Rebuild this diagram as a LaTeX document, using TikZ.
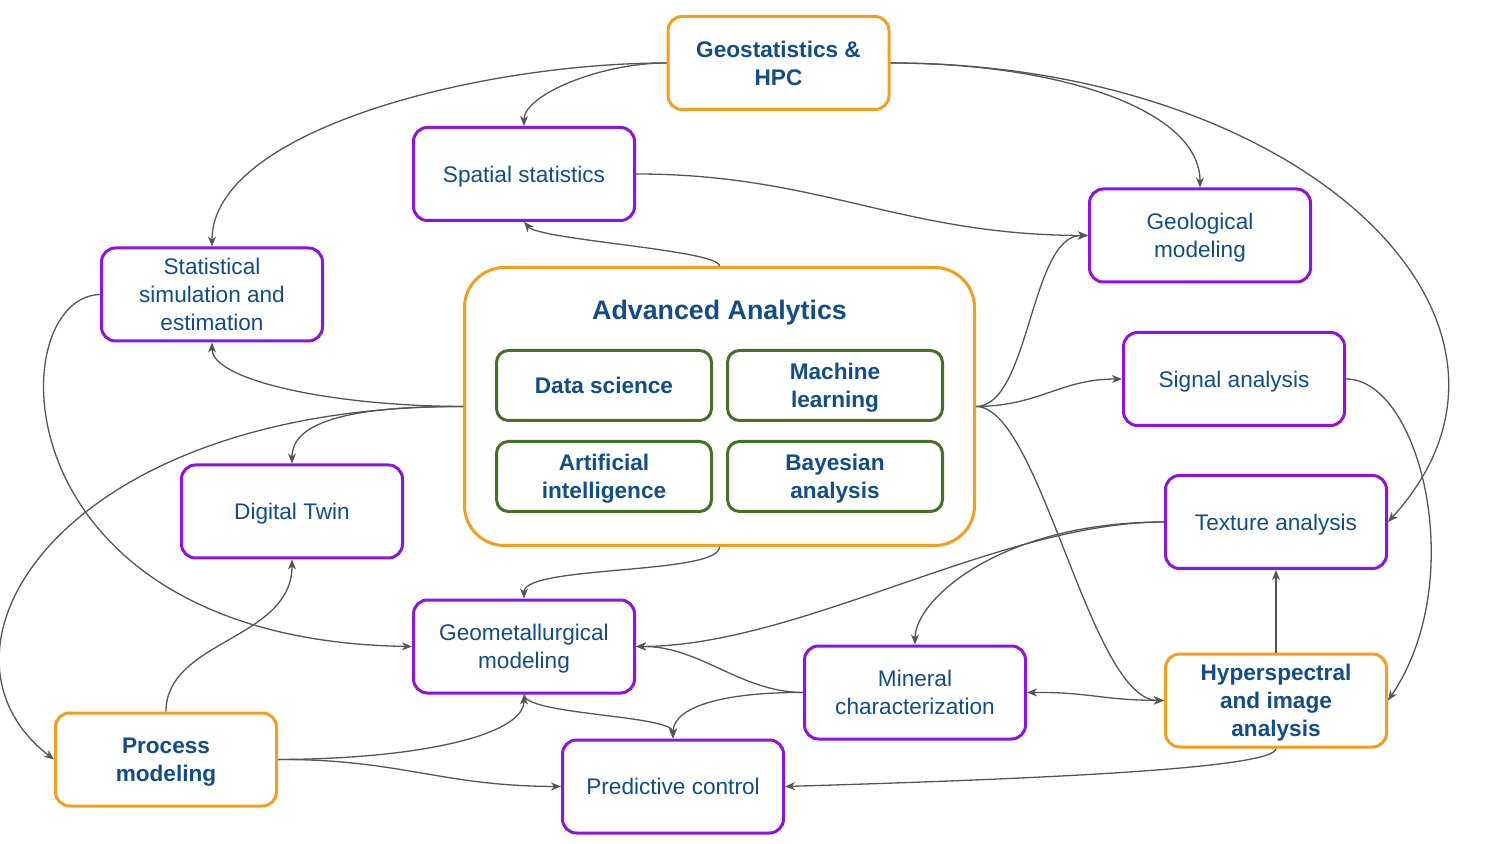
\documentclass[tikz,border=0pt]{standalone}
\usepackage{fontspec}
\setmainfont{Liberation Sans}
\usetikzlibrary{arrows.meta}
\definecolor{txt}{RGB}{17,77,138}
\definecolor{orng}{RGB}{245,158,27}
\definecolor{purp}{RGB}{142,18,232}
\definecolor{grn}{RGB}{68,114,36}
\definecolor{edgec}{RGB}{85,85,85}
\newcommand\topstrut{\rule{0pt}{10.6pt}}
\newcommand\botstrut{\rule[-2.5pt]{0pt}{0pt}}
\tikzset{ctip/.tip={Stealth[length=5pt,width=4pt,inset=1.5pt]}}
\begin{document}
\begin{tikzpicture}[x=0.5pt,y=-0.5pt,
  box/.style={draw=purp, fill=white, line width=1.5pt, rounded corners=7pt, minimum width=110.5pt, minimum height=46.5pt, align=center, text=txt, font=\fontsize{11.3}{14}\selectfont, inner sep=2pt},
  obox/.style={box, draw=orng, font=\fontsize{11.3}{14}\selectfont\bfseries},
  gbox/.style={box, draw=grn, minimum width=107.5pt, minimum height=35pt, rounded corners=6pt, font=\fontsize{11.3}{14}\selectfont\bfseries},
  conn/.style={draw=edgec, line width=0.65pt, -ctip},
]
\useasboundingbox (0,0) rectangle (1500,844);

\node[draw=orng, fill=white, line width=1.5pt, rounded corners=20pt, minimum width=255pt, minimum height=139pt] (aa) at (719.5,406.5) {};
\node[text=txt, font=\fontsize{13.4}{16}\selectfont\bfseries, anchor=base, inner sep=0pt] (aatitle) at (719.5,319.5) {Advanced Analytics};
\node[gbox] (ds) at (604,385.5) {\topstrut Data science\botstrut};
\node[gbox] (ml) at (835,385.5) {\topstrut Machine\\learning\botstrut};
\node[gbox] (ai) at (604,476.5) {\topstrut Artificial\\intelligence\botstrut};
\node[gbox] (ba) at (835,476.5) {\topstrut Bayesian\\analysis\botstrut};

\node[obox] (geo) at (778.5,63) {\topstrut Geostatistics \&\\HPC\botstrut};
\node[box] (sp) at (524,174) {\topstrut Spatial statistics\botstrut};
\node[box] (gl) at (1200,235.5) {\topstrut Geological\\modeling\botstrut};
\node[box] (ss) at (212,294.5) {\topstrut Statistical\\simulation and\\estimation\botstrut};
\node[box] (sig) at (1234,379) {\topstrut Signal analysis\botstrut};
\node[box] (dt) at (292,511.5) {\topstrut Digital Twin\botstrut};
\node[box] (tex) at (1276,522) {\topstrut Texture analysis\botstrut};
\node[box] (gm) at (524,646.5) {\topstrut Geometallurgical\\modeling\botstrut};
\node[box] (min) at (915,692.5) {\topstrut Mineral\\characterization\botstrut};
\node[obox] (hyp) at (1276,700.5) {\topstrut Hyperspectral\\and image\\analysis\botstrut};
\node[obox] (pm) at (166,759.5) {\topstrut Process\\modeling\botstrut};
\node[box] (pc) at (673,786.5) {\topstrut Predictive control\botstrut};

\draw[conn] (geo.west) .. controls (600,63) and (524,95) .. (sp.north);
\draw[conn] (geo.west) .. controls (480,63) and (212,130) .. (ss.north);
\draw[conn] (geo.east) .. controls (1060,63) and (1200,110) .. (gl.north);
\draw[conn] (geo.east) .. controls (1300,63) and (1572,320) .. (tex.east);
\draw[conn] (sp.east) .. controls (820,174) and (900,235) .. (gl.west);
\draw[conn] (aa.north) .. controls (719,250) and (540,240) .. (sp.south);
\draw[conn] (aa.west) .. controls (330,406) and (212,380) .. (ss.south);
\draw[conn] (aa.west) .. controls (340,406) and (292,425) .. (dt.north);
\draw[conn] (aa.west) .. controls (60,406) and (-88,650) .. (pm.west);
\draw[conn] (aa.east) .. controls (1030,406) and (1030,235) .. (gl.west);
\draw[conn] (aa.east) .. controls (1040,406) and (1060,379) .. (sig.west);
\draw[conn] (aa.east) .. controls (1040,406) and (1090,700) .. (hyp.west);
\draw[conn] (aa.south) .. controls (719,575) and (524,565) .. (gm.north);
\draw[conn] (ss.west) .. controls (0,297) and (-5,640) .. (gm.west);
\draw[conn] (sig.east) .. controls (1420,379) and (1470,580) .. (hyp.east);
\draw[conn] (tex.west) .. controls (1000,522) and (800,646) .. (gm.east);
\draw[conn] (tex.west) .. controls (1000,522) and (915,600) .. (min.north);
\draw[conn] (hyp.north) -- (tex.south);
\draw[conn, ctip-ctip] (min.east) .. controls (1090,692) and (1100,700) .. (hyp.west);
\draw[conn] (min.west) .. controls (740,692) and (700,646) .. (gm.east);
\draw[conn] (min.west) .. controls (730,692) and (673,705) .. (pc.north);
\draw[conn] (gm.south) .. controls (524,715) and (673,715) .. (pc.north);
\draw[conn] (pm.north) .. controls (166,640) and (292,640) .. (dt.south);
\draw[conn] (pm.east) .. controls (420,759) and (524,735) .. (gm.south);
\draw[conn] (pm.east) .. controls (400,759) and (440,786) .. (pc.west);
\draw[conn] (hyp.south) .. controls (1276,770) and (1000,780) .. (pc.east);
\end{tikzpicture}
\end{document}
